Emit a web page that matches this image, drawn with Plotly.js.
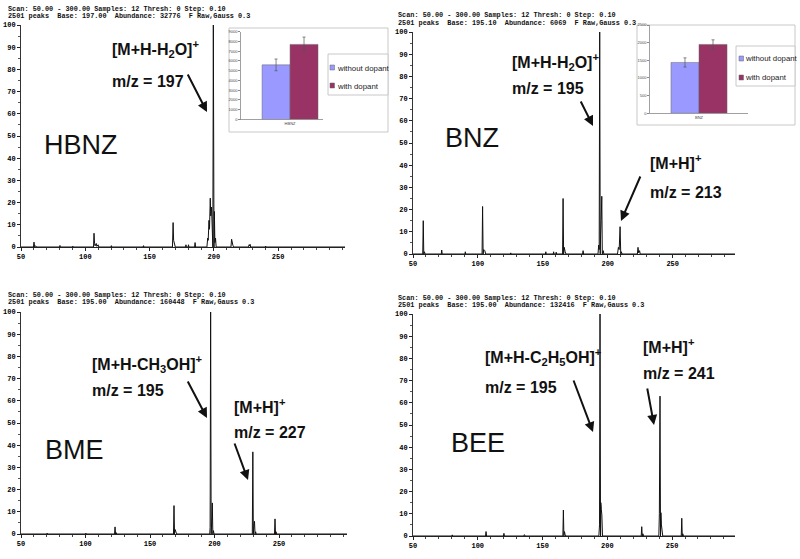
<!DOCTYPE html>
<html>
<head>
<meta charset="utf-8">
<script src="https://cdn.plot.ly/plotly-3.0.1.min.js"></script>
<style>html,body{margin:0;padding:0;background:#fff;}#chart{width:800px;height:559px;}</style>
</head>
<body>
<div id="chart"></div>
<script>
// ---------------- DATA ----------------
// Mass spectra: m/z and relative abundance (%)
const hbnzMz  = [50, 59.7, 60.1, 60.6, 61.5, 62, 80, 80.3, 80.6, 90, 90.3, 90.6, 106.4, 106.8, 107.2, 107.6, 108.5, 109, 110, 110.5, 120, 120.3, 120.6, 145, 145.3, 145.6, 167.8, 168.3, 168.7, 169.3, 170, 178, 178.3, 178.6, 180, 180.3, 180.6, 185, 185.4, 185.8, 194.6, 195.2, 195.6, 196.2, 196.6, 197.2, 197.6, 198.2, 198.6, 199.2, 199.6, 200.1, 200.4, 200.8, 201.3, 201.8, 213.3, 213.8, 214.3, 214.8, 215.3, 227, 227.4, 227.8, 228.2, 228.6, 240, 240.3, 240.6, 302];
const hbnzInt = [0, 0, 2.2, 0, 0.5, 0, 0, 0.7, 0, 0, 0.4, 0, 0, 6.2, 1.5, 0.5, 1.6, 0.3, 1, 0, 0, 0.6, 0, 0, 0.6, 0, 0, 11, 3, 1.5, 0, 0, 1, 0, 0, 1, 0, 0, 2, 0, 0, 4, 3, 12, 8, 22, 14, 18, 6, 0, 100, 0, 16, 2, 4, 0, 0, 3.5, 1.5, 0.8, 0, 0, 1, 0.5, 1.2, 0, 0, 0.4, 0, 0];

const bnzMz  = [50, 57.5, 57.9, 58.3, 58.8, 59.3, 71.8, 72.1, 72.5, 90, 90.3, 90.6, 103.2, 103.6, 104, 104.5, 105.3, 106, 125, 125.3, 125.6, 152, 152.3, 152.6, 158, 158.3, 158.6, 160, 160.3, 160.6, 165.2, 165.6, 166, 166.5, 167.2, 167.8, 180.6, 181, 181.4, 192.5, 193, 193.4, 193.8, 194.2, 194.5, 194.9, 195.4, 195.8, 196.5, 197, 207.5, 208.2, 208.8, 209.5, 210, 210.5, 211, 222.8, 223.3, 223.8, 224.5, 225, 298];
const bnzInt = [0, 0, 15, 0, 1, 0, 0, 1.8, 0, 0, 1, 0, 0, 21.4, 0, 2, 1.5, 0, 0, 0.5, 0, 0, 1, 0, 0, 1, 0, 0, 0.8, 0, 0, 25, 0, 3, 1, 0, 0, 1.5, 0, 0, 4, 2, 100, 0, 9, 15, 26, 0, 1.5, 0, 0, 3, 2, 12.3, 0, 1, 0, 0, 3, 0.5, 1.5, 0, 0];

const bmeMz  = [50, 70, 70.3, 70.6, 100, 100.3, 100.6, 122.5, 122.9, 123.3, 123.8, 124.2, 168.2, 168.6, 169, 169.5, 170.2, 170.8, 196.3, 196.6, 197, 197.4, 198, 198.3, 198.7, 199.2, 199.6, 229.3, 229.7, 230.1, 230.6, 231, 231.4, 231.9, 232.3, 246.5, 246.9, 247.3, 247.7, 248.1, 302.7];
const bmeInt = [0, 0, 0.4, 0, 0, 0.4, 0, 0, 3.2, 0, 0.6, 0, 0, 12.8, 0, 2, 0.8, 0, 0, 3, 100, 0, 8, 14, 0, 1.5, 0, 0, 37, 0, 4, 5.7, 0, 1, 0, 0, 6.8, 0, 1, 0, 0];

const beeMz  = [50, 80, 80.3, 80.6, 106, 106.4, 106.8, 119.8, 120.2, 120.6, 135.5, 136, 136.5, 165.7, 166.1, 166.5, 166.9, 167.5, 168, 193.5, 194, 194.4, 194.8, 195, 195.4, 195.8, 196.3, 226.2, 226.6, 227, 227.5, 228, 239.8, 240.2, 240.7, 241.1, 241.4, 241.8, 242.3, 242.8, 257.1, 257.5, 257.9, 258.3, 258.8, 298.6];
const beeInt = [0, 0, 0.5, 0, 0, 2, 0, 0, 1.2, 0, 0, 0.6, 0, 0, 11.7, 0, 2, 0.6, 0, 0, 5, 100, 0, 15, 12, 9.5, 0, 0, 4.2, 0, 1, 0, 0, 10, 63, 0, 10.5, 5, 2, 0, 0, 8, 0, 1, 0, 0];

// Inset bar charts (signal with / without dopant)
const insetCats     = ['HBNZ', 'BNZ'];
const withoutDopant = [5600, 1440];
const withDopant    = [7700, 1950];
const withoutErr    = [600, 130];
const withErr       = [750, 130];
const legendNames   = ['without dopant', 'with dopant'];

// Spectrum header texts and labels
const headerLine1 = 'Scan: 50.00 - 300.00 Samples: 12 Thresh: 0 Step: 0.10';
const headerLine2 = [
  '2501 peaks  Base: 197.00  Abundance: 32776  F Raw,Gauss 0.3',
  '2501 peaks  Base: 195.10  Abundance: 6069  F Raw,Gauss 0.3',
  '2501 peaks  Base: 195.00  Abundance: 160448  F Raw,Gauss 0.3',
  '2501 peaks  Base: 195.00  Abundance: 132416  F Raw,Gauss 0.3'
];
const compoundNames = ['HBNZ', 'BNZ', 'BME', 'BEE'];
const yTickVals = [0, 10, 20, 30, 40, 50, 60, 70, 80, 90, 100];
const xTickVals = [50, 100, 150, 200, 250];

// ---------------- LAYOUT HELPERS ----------------
const W = 800, H = 559;
const px = v => v / W;
const py = v => 1 - v / H;

const C_WITHOUT = '#9999ff';
const C_WITH = '#993366';
const MONO = 'Liberation Mono, Courier New, monospace';
const SANS = 'Liberation Sans, Arial, sans-serif';

function specX(x0, x1, rmax) {
  return {
    domain: [px(x0), px(x1)], range: [50, rmax], showgrid: false, zeroline: false,
    showline: true, linecolor: '#222', linewidth: 1,
    tickmode: 'array', tickvals: xTickVals, ticks: 'outside', ticklen: 3, tickcolor: '#222',
    minor: {dtick: 10, tick0: 50, ticks: 'outside', ticklen: 2, tickcolor: '#444'},
    tickfont: {family: MONO, size: 7, color: '#000', weight: 'bold'}
  };
}
function specY(y0, y1, anchor) {
  return {
    domain: [py(y0), py(y1)], range: [0, 100], anchor: anchor, showgrid: false, zeroline: false,
    showline: true, linecolor: '#333', linewidth: 1,
    tickmode: 'array', tickvals: yTickVals, ticks: 'outside', ticklen: 3, tickcolor: '#222',
    minor: {dtick: 5, ticks: 'outside', ticklen: 2, tickcolor: '#555'},
    tickfont: {family: MONO, size: 7, color: '#000', weight: 'bold'}
  };
}

const specLine = {color: '#111', width: 1};
const traces = [
  {type: 'scatter', mode: 'lines', x: hbnzMz, y: hbnzInt, xaxis: 'x', yaxis: 'y', line: specLine, showlegend: false, hoverinfo: 'skip'},
  {type: 'scatter', mode: 'lines', x: bnzMz, y: bnzInt, xaxis: 'x2', yaxis: 'y2', line: specLine, showlegend: false, hoverinfo: 'skip'},
  {type: 'scatter', mode: 'lines', x: bmeMz, y: bmeInt, xaxis: 'x3', yaxis: 'y3', line: specLine, showlegend: false, hoverinfo: 'skip'},
  {type: 'scatter', mode: 'lines', x: beeMz, y: beeInt, xaxis: 'x4', yaxis: 'y4', line: specLine, showlegend: false, hoverinfo: 'skip'}
];

// inset bars: bar width in category units for each inset
const barW = [0.341, 0.286];
['x5', 'x6'].forEach((xa, i) => {
  const ya = i === 0 ? 'y5' : 'y6';
  traces.push({type: 'bar', name: legendNames[0], x: [insetCats[i]], y: [withoutDopant[i]],
    width: [barW[i]], offset: [-barW[i]], xaxis: xa, yaxis: ya, showlegend: false,
    marker: {color: C_WITHOUT, line: {color: '#666', width: 0.5}},
    error_y: {type: 'data', array: [withoutErr[i]], color: '#555', thickness: 0.7, width: 1.5}});
  traces.push({type: 'bar', name: legendNames[1], x: [insetCats[i]], y: [withDopant[i]],
    width: [barW[i]], offset: [0], xaxis: xa, yaxis: ya, showlegend: false,
    marker: {color: C_WITH, line: {color: '#666', width: 0.5}},
    error_y: {type: 'data', array: [withErr[i]], color: '#555', thickness: 0.7, width: 1.5}});
});

function insetX(x0, x1, r) {
  return {domain: [px(x0), px(x1)], range: r, type: 'category', showgrid: false, zeroline: false,
    showline: true, linecolor: '#888', linewidth: 0.8, ticks: '', fixedrange: true,
    tickfont: {family: SANS, size: 4, color: '#444'}};
}
function insetY(y0, y1, rmax, dt, anchor) {
  return {domain: [py(y0), py(y1)], range: [0, rmax], dtick: dt, anchor: anchor, showgrid: false, zeroline: false,
    showline: true, linecolor: '#888', linewidth: 0.8, ticks: 'outside', ticklen: 2, tickcolor: '#888',
    tickfont: {family: SANS, size: 4, color: '#444'}};
}

const ann = [];
function txt(x, y, text, font, xanchor) {
  ann.push({xref: 'paper', yref: 'paper', x: px(x), y: py(y), text: text, showarrow: false,
    xanchor: xanchor || 'left', yanchor: 'middle', font: font});
}
function arrow(x0, y0, x1, y1) {
  ann.push({xref: 'paper', yref: 'paper', axref: 'paper', ayref: 'paper', x: px(x1), y: py(y1),
    ax: px(x0), ay: py(y0), text: '', showarrow: true, arrowhead: 2, arrowsize: 1, arrowwidth: 2, arrowcolor: '#111'});
}
const hdrFont = {family: MONO, size: 6.85, color: '#111', weight: 'bold'};
const bigFont = {family: SANS, size: 27, color: '#111'};
const ionFont = {family: SANS, size: 16, color: '#111', weight: 'bold'};
const legFont = {family: SANS, size: 7.8, color: '#222'};

// headers
txt(6, 9, headerLine1, hdrFont); txt(6, 16, headerLine2[0], hdrFont);
txt(396, 15, headerLine1, hdrFont); txt(396, 23, headerLine2[1], hdrFont);
txt(6, 295, headerLine1, hdrFont); txt(6, 302, headerLine2[2], hdrFont);
txt(396, 298, headerLine1, hdrFont); txt(396, 305, headerLine2[3], hdrFont);
// compound names
txt(81, 145, compoundNames[0], bigFont, 'center');
txt(472, 138, compoundNames[1], bigFont, 'center');
txt(74, 450, compoundNames[2], bigFont, 'center');
txt(478, 443, compoundNames[3], bigFont, 'center');
// ion labels
txt(110, 49, '[M+H-H<sub>2</sub>O]<sup>+</sup>', ionFont); txt(110, 82, 'm/z = 197', ionFont);
arrow(187, 73, 207, 112);
txt(510, 62, '[M+H-H<sub>2</sub>O]<sup>+</sup>', ionFont); txt(510, 88, 'm/z = 195', ionFont);
arrow(580, 100, 593, 126);
txt(648, 162, '[M+H]<sup>+</sup>', ionFont); txt(648, 193, 'm/z = 213', ionFont);
arrow(641, 175, 621, 221);
txt(90, 364, '[M+H-CH<sub>3</sub>OH]<sup>+</sup>', ionFont); txt(90, 390, 'm/z = 195', ionFont);
arrow(187, 380, 207, 418);
txt(232, 406, '[M+H]<sup>+</sup>', ionFont); txt(232, 432, 'm/z = 227', ionFont);
arrow(234, 442, 248, 480);
txt(483, 357, '[M+H-C<sub>2</sub>H<sub>5</sub>OH]<sup>+</sup>', ionFont); txt(483, 387, 'm/z = 195', ionFont);
arrow(573, 379, 593, 432);
txt(641, 346, '[M+H]<sup>+</sup>', ionFont); txt(641, 373, 'm/z = 241', ionFont);
arrow(647, 387, 654, 425);
// inset legends
txt(335, 68, legendNames[0], legFont); txt(335, 86, legendNames[1], legFont);
txt(743, 58, legendNames[0], legFont); txt(743, 77, legendNames[1], legFont);

function rect(x0, y0, x1, y1, fill, line, lw, layer) {
  return {type: 'rect', xref: 'paper', yref: 'paper', x0: px(x0), x1: px(x1), y0: py(y1), y1: py(y0),
    fillcolor: fill, line: {color: line, width: lw}, layer: layer || 'below'};
}
const shapes = [
  rect(229, 28, 388, 132, '#fff', '#c8c8c8', 1),
  rect(328, 54, 388, 95, '#fff', '#c8c8c8', 1),
  rect(330, 65, 334.5, 70, C_WITHOUT, '#666', 0.5, 'above'),
  rect(330, 83, 334.5, 88, C_WITH, '#666', 0.5, 'above'),
  rect(637, 25, 795, 125, '#fff', '#c8c8c8', 1),
  rect(736, 46, 795, 86, '#fff', '#c8c8c8', 1),
  rect(739, 56, 743.5, 61, C_WITHOUT, '#666', 0.5, 'above'),
  rect(739, 75, 743.5, 80, C_WITH, '#666', 0.5, 'above')
];

const layout = {
  width: W, height: H, margin: {l: 0, r: 0, t: 0, b: 0},
  paper_bgcolor: '#fff', plot_bgcolor: 'rgba(0,0,0,0)', showlegend: false,
  barmode: 'overlay',
  xaxis: specX(21, 345, 302), yaxis: specY(247, 25, 'x'),
  xaxis2: Object.assign(specX(413, 735, 298), {anchor: 'y2'}), yaxis2: specY(254, 32, 'x2'),
  xaxis3: Object.assign(specX(21, 347, 302.7), {anchor: 'y3'}), yaxis3: specY(534, 312, 'x3'),
  xaxis4: Object.assign(specX(413, 735, 298.6), {anchor: 'y4'}), yaxis4: specY(536, 314, 'x4'),
  xaxis5: Object.assign(insetX(241, 323, [-0.598, 0.402]), {anchor: 'y5'}), yaxis5: insetY(119.5, 31.7, 9000, 1000, 'x5'),
  xaxis6: Object.assign(insetX(650, 748, [-0.5, 0.5]), {anchor: 'y6'}), yaxis6: insetY(113.3, 25, 2500, 500, 'x6'),
  annotations: ann, shapes: shapes
};
layout.xaxis.anchor = 'y';

Plotly.newPlot('chart', traces, layout, {staticPlot: true, displayModeBar: false});
</script>
</body>
</html>
